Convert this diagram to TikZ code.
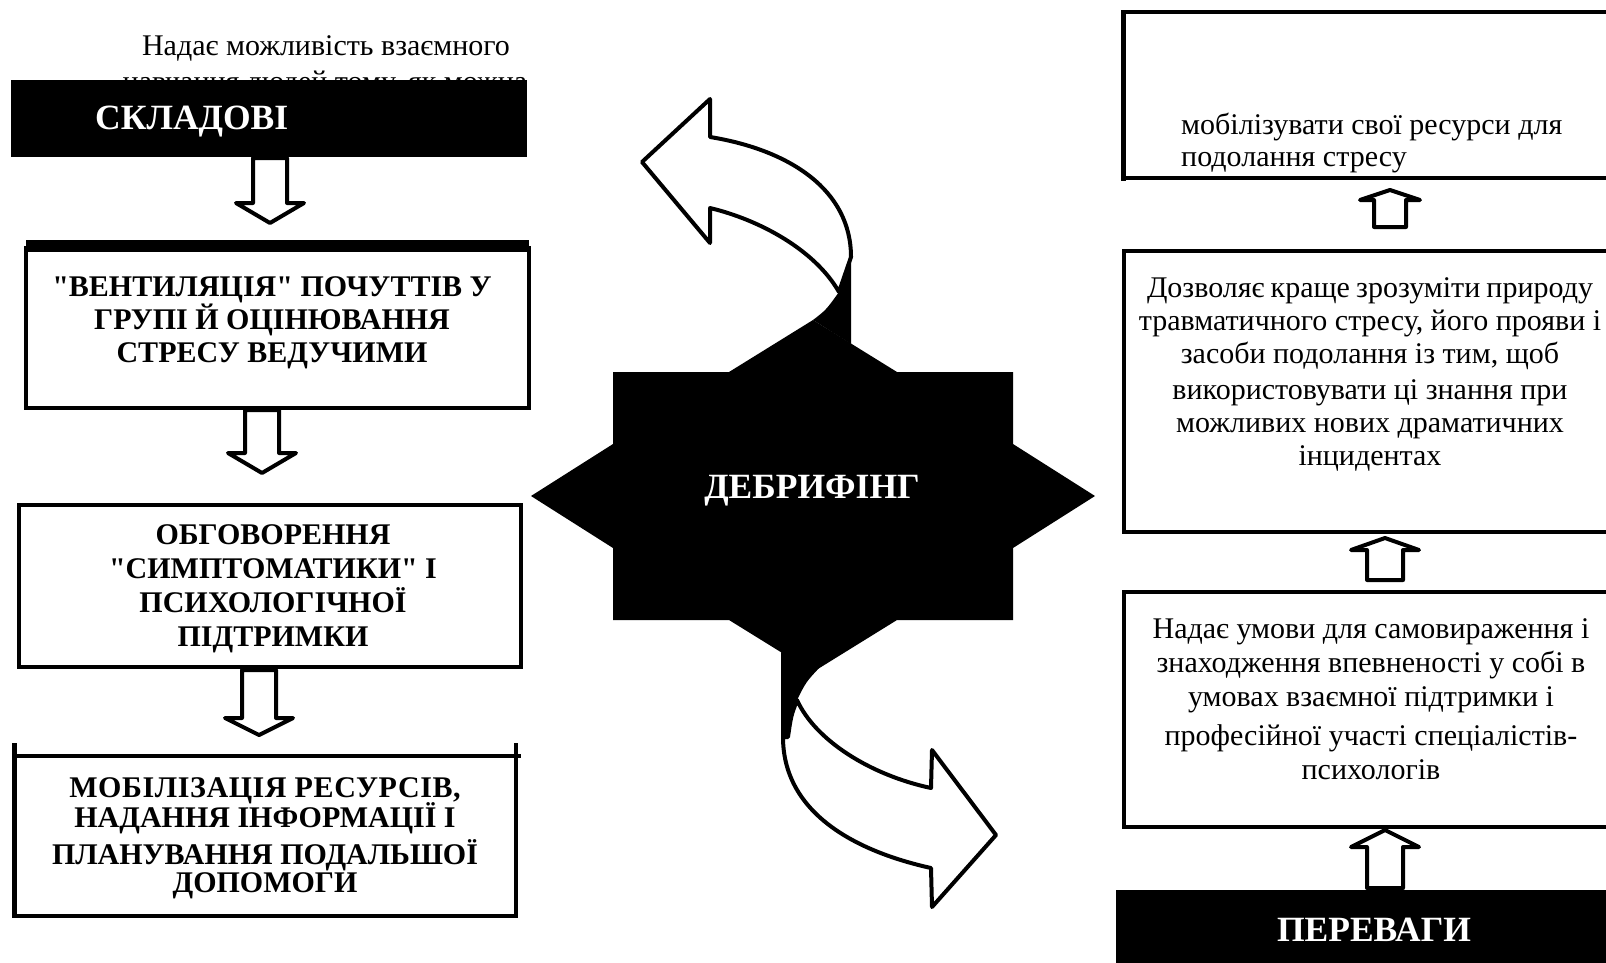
\documentclass[tikz,border=0pt]{standalone}
\usepackage{fontspec}
\setmainfont{Liberation Serif}
\newcommand{\DnBlk}[4]{\draw[blk] (#1-17,#2) -- (#1+17,#2) -- (#1+17,#3) -- (#1+34,#3) -- (#1,#4) -- (#1-34,#3) -- (#1-17,#3) -- cycle;}
\newcommand{\UpBlk}[6]{\draw[blk] (#1-#6,#4) -- (#1-#6,#3) -- (#1-#5,#3) -- (#1,#2) -- (#1+#5,#3) -- (#1+#6,#3) -- (#1+#6,#4) -- cycle;}
\newcommand{\qq}{\XeTeXglyph\XeTeXcharglyph"22\relax}
\begin{document}
\begin{tikzpicture}[x=1pt,y=-1pt,
  box/.style={draw=black, line width=3.5pt},
  blk/.style={draw=black, fill=white, line width=4pt, line join=round},
  bt/.style={font=\bfseries\fontsize{30}{33}\selectfont, align=center, inner sep=0pt},
  rt/.style={font=\fontsize{30}{33}\selectfont, align=center, inner sep=0pt},
  hd/.style={font=\bfseries\fontsize{35.5}{38}\selectfont, text=white, inner sep=0pt},
  carrow/.style={draw=black, fill=white, line width=4pt, line join=round},
]
\useasboundingbox (0,0) rectangle (1606,962);
\clip (0,0) rectangle (1606,962);
\fill[white] (0,0) rectangle (1606,962);

% ---------- left column ----------
\node[rt] (t0) at (326,48) {Надає можливість взаємного};
\node[rt] (t0b) at (325,84.5) {навчання людей тому, як можна};
\fill[black] (11,80) rectangle (527,157);
\node[hd, anchor=west] (skl) at (95,122) {СКЛАДОВІ};

\DnBlk{270}{158}{203}{223}

\draw[box] (26,248) rectangle (529,408);
\fill[black] (26,240) rectangle (529,252);
\node[bt, font=\bfseries\fontsize{30}{33}\selectfont] (vent) at (272,323)
  {\qq ВЕНТИЛЯЦІЯ\qq{} ПОЧУТТІВ У\\ГРУПІ Й ОЦІНЮВАННЯ\\СТРЕСУ ВЕДУЧИМИ};

\DnBlk{262}{410}{453}{473}

\draw[box] (19,505) rectangle (521,667);
\node[bt, font=\bfseries\fontsize{30}{34}\selectfont] (obg) at (273,589)
  {ОБГОВОРЕННЯ\\\qq СИМПТОМАТИКИ\qq{} І\\ПСИХОЛОГІЧНОЇ\\ПІДТРИМКИ};

\DnBlk{259}{670}{718}{735}

\draw[line width=3.5pt] (14,756) -- (521,756);
\draw[line width=5pt] (14,743) -- (14,916);
\draw[line width=4pt] (516,743) -- (516,916);
\draw[line width=4pt] (12,916) -- (518,916);
\node[bt] (mob) at (265,838)
  {{\addfontfeature{LetterSpace=2}МОБІЛІЗАЦІЯ РЕСУРСІВ,}\\[-3pt]НАДАННЯ ІНФОРМАЦІЇ І\\[4pt]ПЛАНУВАННЯ ПОДАЛЬШОЇ\\[-5pt]ДОПОМОГИ};

% ---------- star ----------
\fill[black] (613,372) -- (729,372) -- (813,320) -- (897,372) -- (1013,372) -- (1013,444)
  -- (1095,496) -- (1013,548) -- (1013,620) -- (897,620) -- (813,672) -- (729,620)
  -- (613,620) -- (613,548) -- (531,496) -- (613,444) -- cycle;
\node[hd] (deb) at (812,491) {ДЕБРИФІНГ};

% top curved arrow
\draw[carrow] (851,257) .. controls (851,190) and (790,150) .. (710,137) -- (710,99)
  -- (642,162) -- (710,243) -- (710,208) .. controls (760,220) and (815,250) .. (839,292) -- cycle;
\fill[black] (851,255) -- (851,344) -- (813,320) .. controls (826,310) .. (839,292) -- cycle;

% bottom curved arrow
\draw[carrow] (783,737) .. controls (783,810) and (850,850) .. (931,868) -- (932,907)
  -- (996,835) -- (932,750) -- (931,788) .. controls (870,775) and (815,740) .. (797,700)
  .. controls (791,716) .. (788,737) -- cycle;
\fill[black] (781,652) -- (820,667) .. controls (806,682) .. (797,700) .. controls (791,716) .. (788,737) -- (781,739) -- cycle;

% ---------- right column ----------
\draw[line width=3.5pt] (1640,12) -- (1123,12);
\draw[line width=5pt] (1123,10) -- (1123,181);
\draw[line width=3.5pt] (1121,178) -- (1640,178);
\node[rt, align=left, anchor=west, font=\fontsize{30}{32}\selectfont] (r1) at (1181,143) {мобілізувати свої ресурси для\\подолання стресу};

\UpBlk{1390}{190}{200}{227}{30}{16}

\draw[box] (1124,251) rectangle (1640,532);
\node[rt] (r2) at (1370,374)
  {\makebox[446pt][s]{Дозволяє краще зрозуміти природу}\\травматичного стресу, його прояви і\\засоби подолання із тим, щоб\\[3pt]використовувати ці знання при\\можливих нових драматичних\\інцидентах};

\UpBlk{1385}{538}{550}{580}{34}{18}

\draw[box] (1124,592) rectangle (1640,827);
\node[rt, font=\fontsize{30}{34}\selectfont] (r3) at (1371,699)
  {Надає умови для самовираження і\\знаходження впевненості у собі в\\умовах взаємної підтримки і\\[5pt]професійної участі спеціалістів-\\психологів};

\UpBlk{1385}{830}{847}{888}{34}{18}

\fill[black] (1116,890) rectangle (1640,970);
\node[hd] (per) at (1374,930) {ПЕРЕВАГИ};
\end{tikzpicture}
\end{document}
